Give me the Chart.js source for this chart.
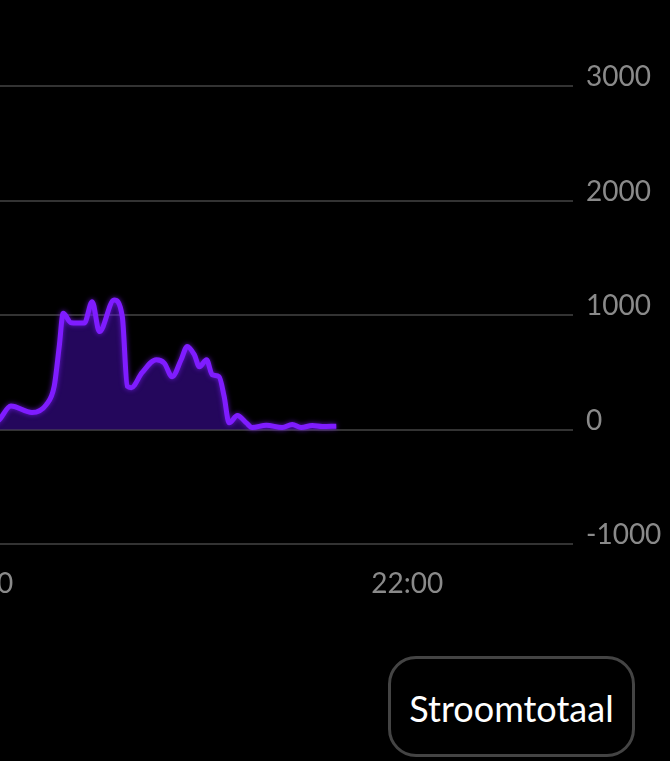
<!DOCTYPE html>
<html>
<head>
<meta charset="utf-8">
<script src="https://cdn.jsdelivr.net/npm/chart.js@4/dist/chart.umd.min.js"></script>
<style>
  html, body { margin: 0; padding: 0; background: #000; width: 670px; height: 761px; overflow: hidden; }
  #wrap { position: absolute; left: -453px; top: 0; width: 1123px; height: 614px; }
  #btn { position: absolute; left: 388px; top: 656px; width: 241px; height: 95px;
         border: 3px solid #444; border-radius: 28px; color: #fff;
         font-family: Lato, sans-serif; font-size: 36px; display: flex;
         align-items: center; justify-content: center; box-sizing: content-box; padding-top: 2px; height: 93px; }
</style>
</head>
<body>
<div id="wrap"><canvas id="c"></canvas></div>
<div id="btn">Stroomtotaal</div>
<script>
// time in minutes since midnight
const times = [1203, 1206, 1209.4, 1215.3, 1219.3, 1221.5, 1222.9, 1224.0, 1226.2, 1229.9, 1232.1, 1234.1, 1238.2, 1240.5, 1241.9, 1243.0, 1246.0, 1250.0, 1252.2, 1254.4, 1256.9, 1258.6, 1260.6, 1262.0, 1264.0, 1265.6, 1267.5, 1268.9, 1270.3, 1272.6, 1275.1, 1276.7, 1280.7, 1285.1, 1287.9, 1290.4, 1293.5, 1296.3, 1300.2];
const power = [40, 80, 205, 148, 217, 377, 725, 1015, 933, 930, 1116, 855, 1130, 985, 377, 365, 496, 609, 580, 461, 609, 725, 652, 548, 609, 478, 461, 290, 58, 122, 58, 17, 38, 17, 43, 17, 35, 26, 29];
const xTicks = [1200, 1320];
const yTicks = [-1000, 0, 1000, 2000, 3000];
const xMin = 1080, xMax = 1364;

const pts = times.map((t, i) => ({ x: t, y: power[i] }));
const fmt = v => String(Math.floor(v / 60)).padStart(2, '0') + ':' + String(v % 60).padStart(2, '0');

const glow = {
  id: 'glow',
  beforeDatasetDraw(chart) { const c = chart.ctx; c.save(); c.shadowColor = 'rgba(128,32,255,0.7)'; c.shadowBlur = 5; },
  afterDatasetDraw(chart) { chart.ctx.restore(); }
};

new Chart(document.getElementById('c'), {
  type: 'line',
  data: {
    datasets: [{
      data: pts,
      borderColor: '#7f1cff',
      backgroundColor: 'rgba(100,20,255,0.36)',
      borderWidth: 5,
      fill: 'origin',
      pointRadius: 0,
      cubicInterpolationMode: 'monotone'
    }]
  },
  plugins: [glow],
  options: {
    responsive: true,
    maintainAspectRatio: false,
    animation: false,
    events: [],
    layout: { padding: { top: 86, left: 0, right: 0, bottom: 0 } },
    plugins: { legend: { display: false }, tooltip: { enabled: false } },
    scales: {
      x: {
        type: 'linear',
        min: xMin, max: xMax,
        grid: { display: false, drawTicks: false },
        border: { display: false },
        afterBuildTicks: s => { s.ticks = xTicks.map(v => ({ value: v })); },
        afterFit: s => { s.height = 70; },
        ticks: {
          autoSkip: false, maxRotation: 0, padding: 23,
          color: '#8a8a8a', font: { family: 'Lato', size: 28 },
          callback: v => fmt(v)
        }
      },
      y: {
        position: 'right',
        min: -1000, max: 3000,
        afterBuildTicks: s => { s.ticks = yTicks.map(v => ({ value: v })); },
        afterFit: s => { s.width = 105; },
        grid: { color: '#333', lineWidth: 2, tickLength: 8, drawOnChartArea: true },
        border: { display: false },
        ticks: {
          padding: 13, labelOffset: -9,
          color: '#8a8a8a', font: { family: 'Lato', size: 28 },
          callback: v => String(v)
        }
      }
    }
  }
});
</script>
</body>
</html>
